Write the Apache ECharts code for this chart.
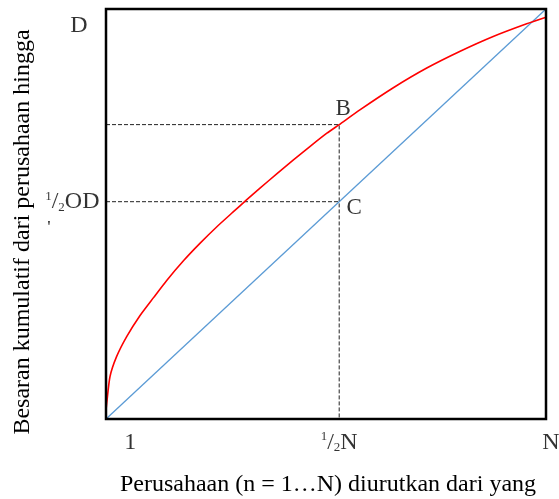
<!DOCTYPE html>
<html><head><meta charset="utf-8">
<script src="https://cdn.jsdelivr.net/npm/echarts@6/dist/echarts.min.js"></script>
<style>html,body{margin:0;padding:0;background:#fff}#c{width:559px;height:499px}</style>
</head><body><div id="c"></div>
<script>
// Concentration curve (red) (share of firms vs cumulative size)
const curveX = [0, 0.0016, 0.009, 0.024, 0.047, 0.077, 0.108, 0.138, 0.176, 0.214, 0.252, 0.289, 0.32, 0.35, 0.388, 0.426, 0.464, 0.502, 0.53, 0.577, 0.653, 0.729, 0.805, 0.88, 0.956, 1.0];
const curveY = [0.022, 0.038, 0.103, 0.152, 0.201, 0.252, 0.296, 0.338, 0.386, 0.429, 0.469, 0.505, 0.535, 0.563, 0.598, 0.632, 0.665, 0.697, 0.718, 0.754, 0.808, 0.856, 0.897, 0.933, 0.964, 0.980];
// Equal-distribution diagonal (blue)
const diagX = [0, 1];
const diagY = [0, 1];
// Half of the firms and the two marked points
const halfN = 0.53;
const pointB = 0.718;
const pointC = 0.53;
// Tick labels
const xTickValues = [0.055, 0.53, 1];
const xTickLabels = ['1', '{s|1}{m|/}{b|2}{m|N}', 'N'];
const yTickValues = [1, 0.53];
const yTickLabels = ['D', '{s|1}{m|/}{b|2}{m|OD}'];
const pointLabels = ['B', 'C'];
const xTitle = 'Perusahaan (n = 1…N) diurutkan dari yang';
const yTitle = 'Besaran kumulatif dari perusahaan hingga';

const FONT = '"Liberation Serif", "Times New Roman", serif';
const rich = {
  m: {fontSize: 24, fontFamily: FONT, color: '#000', lineHeight: 24},
  s: {fontSize: 13, fontFamily: FONT, color: '#000', lineHeight: 13, verticalAlign: 'top'},
  b: {fontSize: 13, fontFamily: FONT, color: '#000', lineHeight: 13, verticalAlign: 'bottom'}
};
const baseLabel = {show: true, fontSize: 24, fontFamily: FONT, color: '#000', lineHeight: 24, rich: rich};

const zip = (a, b) => a.map((v, i) => [v, b[i]]);

const tickData = [];
xTickValues.forEach((v, i) => tickData.push({
  value: [v, 0],
  label: Object.assign({}, baseLabel, {position: 'bottom', distance: 11,
    formatter: xTickLabels[i], offset: [i === 2 ? 5 : 0, 0]})
}));
yTickValues.forEach((v, i) => tickData.push({
  value: [0, v],
  label: Object.assign({}, baseLabel, {position: 'left', distance: i === 0 ? 18 : 6,
    formatter: yTickLabels[i], offset: [0, i === 0 ? 17 : 0]})
}));
tickData.push({value: [halfN, pointB], label: Object.assign({}, baseLabel, {position: 'inside', formatter: pointLabels[0], fontSize: 23, offset: [4, -16]})});
tickData.push({value: [halfN, pointC], label: Object.assign({}, baseLabel, {position: 'inside', formatter: pointLabels[1], fontSize: 23, offset: [15, 6]})});

const chart = echarts.init(document.getElementById('c'), null, {renderer: 'canvas'});
chart.setOption({
  animation: false,
  backgroundColor: '#fff',
  grid: {left: 106, right: 13, top: 9, bottom: 80, show: true, borderColor: '#000', borderWidth: 2.5, backgroundColor: 'transparent', z: 10},
  xAxis: {type: 'value', min: 0, max: 1, axisLine: {show: false}, axisTick: {show: false}, axisLabel: {show: false}, splitLine: {show: false}},
  yAxis: {type: 'value', min: 0, max: 1, axisLine: {show: false}, axisTick: {show: false}, axisLabel: {show: false}, splitLine: {show: false}},
  series: [
    {type: 'line', data: [[0, pointB], [halfN, pointB], [halfN, 0]], symbol: 'none', lineStyle: {color: '#222', width: 1, type: [4, 2]}, z: 2},
    {type: 'line', data: [[0, pointC], [halfN, pointC]], symbol: 'none', lineStyle: {color: '#222', width: 1, type: [4, 2]}, z: 2},
    {type: 'line', data: zip(diagX, diagY), symbol: 'none', lineStyle: {color: '#5b9bd5', width: 1.3}, z: 3},
    {type: 'line', data: zip(curveX, curveY), symbol: 'none', smooth: 0.2, lineStyle: {color: '#ff0000', width: 1.6}, z: 4},
    {type: 'scatter', data: tickData, symbolSize: 1, itemStyle: {color: 'rgba(0,0,0,0)'}, clip: false, silent: true, z: 5}
  ],
  graphic: [
    {type: 'text', x: 328, y: 485, style: {text: xTitle, font: '24px ' + FONT, fill: '#000', align: 'center', verticalAlign: 'middle'}},
    {type: 'text', x: 23, y: 232, rotation: Math.PI / 2, style: {text: yTitle, font: '24px ' + FONT, fill: '#000', align: 'center', verticalAlign: 'middle'}},
    {type: 'text', x: 49, y: 228, style: {text: "'", font: '16px ' + FONT, fill: '#000', align: 'center', verticalAlign: 'middle'}}
  ]
});
</script></body></html>
